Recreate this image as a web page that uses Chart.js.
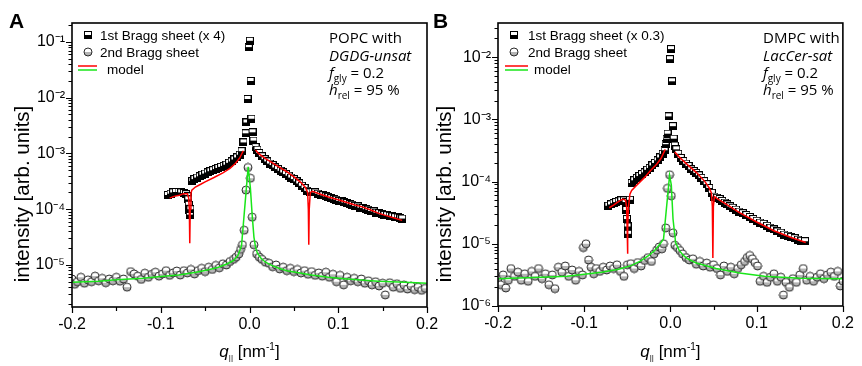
<!DOCTYPE html>
<html><head><meta charset="utf-8">
<script src="https://cdn.jsdelivr.net/npm/chart.js@4.4.1/dist/chart.umd.min.js"></script>
<style>
html,body{margin:0;padding:0;background:#fff;}
#wrap{position:relative;width:862px;height:366px;overflow:hidden;background:#fff;}
#pa{position:absolute;left:0;top:0;}
#pb{position:absolute;left:431px;top:0;}
</style></head><body>
<div id="wrap">
<canvas id="pa" width="460" height="366"></canvas>
<canvas id="pb" width="431" height="366"></canvas>
</div>
<script>
// ---------- shared axis ticks ----------
const xTickValues = [-0.2,-0.15,-0.1,-0.05,0,0.05,0.1,0.15,0.2];
const xTickLabels = ['-0.2','','-0.1','','0.0','','0.1','','0.2'];
const yMajorA = [1e-5,1e-4,1e-3,1e-2,1e-1];
const yLabelsA = ['10\u207B\u2075','10\u207B\u2074','10\u207B\u00B3','10\u207B\u00B2','10\u207B\u00B9'];
const yMajorB = [1e-6,1e-5,1e-4,1e-3,1e-2];
const yLabelsB = ['10\u207B\u2076','10\u207B\u2075','10\u207B\u2074','10\u207B\u00B3','10\u207B\u00B2'];

// ---------- Panel A : POPC with DGDG-unsat ----------
const qA_sheet1 = [-0.092,-0.089,-0.086,-0.083,-0.080,-0.077,-0.074,-0.0715,-0.0698,-0.0690,-0.0684,-0.0678,-0.0672,-0.0666,-0.0645,-0.062,-0.059,-0.056,-0.053,-0.050,-0.047,-0.044,-0.041,-0.038,-0.035,-0.032,-0.029,-0.026,-0.023,-0.020,-0.017,-0.014,-0.011,-0.009,-0.0068,-0.0045,-0.0034,-0.0022,-0.0008,0.0004,0.0012,0.0022,0.0034,0.0045,0.0068,0.009,0.011,0.014,0.017,0.020,0.023,0.026,0.029,0.032,0.035,0.038,0.041,0.044,0.047,0.050,0.053,0.056,0.059,0.062,0.065,0.068,0.071,0.074,0.077,0.080,0.083,0.086,0.089,0.092,0.095,0.098,0.101,0.104,0.107,0.110,0.113,0.116,0.119,0.122,0.125,0.128,0.131,0.134,0.137,0.140,0.143,0.146,0.149,0.152,0.155,0.158,0.161,0.164,0.167,0.170,0.172];
const iA_sheet1 = [1.8e-4,1.9e-4,2.0e-4,2.04e-4,2.04e-4,2.0e-4,1.95e-4,1.86e-4,1.7e-4,1.5e-4,1.2e-4,9.5e-5,8.0e-5,1.0e-4,3.2e-4,3.47e-4,3.7e-4,3.9e-4,4.17e-4,4.37e-4,4.57e-4,4.8e-4,5.0e-4,5.25e-4,5.5e-4,5.75e-4,6.0e-4,6.3e-4,6.8e-4,7.2e-4,7.8e-4,8.5e-4,9.5e-4,1.1e-3,1.58e-3,2.3e-3,3.6e-3,9.5e-3,8.1e-2,0.105,2.0e-2,4.2e-3,2.4e-3,1.7e-3,1.3e-3,1.17e-3,1.02e-3,8.9e-4,7.9e-4,7.2e-4,6.6e-4,6.2e-4,5.6e-4,5.25e-4,4.9e-4,4.57e-4,4.27e-4,4.0e-4,3.7e-4,3.47e-4,3.16e-4,2.9e-4,2.63e-4,2.4e-4,2.14e-4,2.0e-4,2.04e-4,2.0e-4,1.9e-4,1.82e-4,1.78e-4,1.7e-4,1.66e-4,1.58e-4,1.51e-4,1.48e-4,1.41e-4,1.38e-4,1.32e-4,1.29e-4,1.23e-4,1.2e-4,1.15e-4,1.12e-4,1.07e-4,1.05e-4,1.0e-4,9.8e-5,9.3e-5,9.1e-5,8.7e-5,8.5e-5,8.1e-5,7.9e-5,7.8e-5,7.6e-5,7.4e-5,7.2e-5,7.1e-5,6.9e-5,6.8e-5];
const qA_sheet2 = [-0.200,-0.197,-0.194,-0.190,-0.186,-0.182,-0.178,-0.174,-0.170,-0.166,-0.162,-0.158,-0.154,-0.150,-0.146,-0.142,-0.138,-0.134,-0.130,-0.126,-0.122,-0.118,-0.114,-0.110,-0.106,-0.102,-0.098,-0.094,-0.090,-0.086,-0.082,-0.078,-0.074,-0.070,-0.066,-0.062,-0.058,-0.054,-0.050,-0.046,-0.042,-0.038,-0.034,-0.030,-0.026,-0.022,-0.018,-0.015,-0.012,-0.010,-0.008,-0.006,-0.004,-0.0017,0.001,0.003,0.005,0.008,0.011,0.014,0.018,0.022,0.026,0.030,0.034,0.038,0.042,0.046,0.050,0.054,0.058,0.062,0.066,0.070,0.074,0.078,0.082,0.086,0.090,0.094,0.098,0.102,0.106,0.110,0.114,0.118,0.122,0.126,0.130,0.134,0.138,0.142,0.146,0.150,0.153,0.158,0.162,0.166,0.170,0.174,0.178,0.182,0.186,0.190,0.194,0.198];
const iA_sheet2 = [5.6e-6,4.5e-6,5.0e-6,6.0e-6,4.7e-6,5.4e-6,5.0e-6,6.3e-6,5.2e-6,5.75e-6,4.8e-6,5.6e-6,5.2e-6,6.0e-6,5.1e-6,5.6e-6,4.0e-6,7.6e-6,6.9e-6,6.3e-6,5.5e-6,7.1e-6,6.0e-6,6.8e-6,7.4e-6,6.3e-6,6.9e-6,7.9e-6,6.5e-6,7.2e-6,7.8e-6,6.6e-6,7.9e-6,7.2e-6,8.3e-6,6.9e-6,7.9e-6,8.7e-6,7.6e-6,9.1e-6,8.3e-6,9.8e-6,8.9e-6,1.05e-5,1.0e-5,1.15e-5,1.26e-5,1.38e-5,1.58e-5,1.9e-5,2.3e-5,4.2e-5,2.2e-4,5.6e-4,3.6e-4,7.2e-5,2.3e-5,1.58e-5,1.38e-5,1.26e-5,1.12e-5,1.07e-5,9.3e-6,1.0e-5,8.5e-6,9.1e-6,7.9e-6,8.7e-6,7.6e-6,8.3e-6,7.2e-6,7.9e-6,6.8e-6,7.6e-6,6.5e-6,7.2e-6,6.3e-6,7.4e-6,6.0e-6,6.8e-6,5.0e-6,6.5e-6,4.4e-6,6.0e-6,5.2e-6,5.75e-6,5.0e-6,5.6e-6,4.7e-6,5.2e-6,4.4e-6,5.0e-6,4.2e-6,4.7e-6,2.9e-6,4.8e-6,4.0e-6,4.6e-6,3.8e-6,4.4e-6,3.7e-6,4.2e-6,3.6e-6,4.0e-6,3.5e-6,3.8e-6];
const qA_model1 = [-0.090,-0.085,-0.079,-0.074,-0.070,-0.0685,-0.0678,-0.0673,-0.0668,-0.066,-0.065,-0.061,-0.055,-0.050,-0.040,-0.030,-0.022,-0.016,-0.011,-0.007,0,0.0068,0.010,0.018,0.025,0.033,0.042,0.052,0.058,0.063,0.0655,0.0663,0.0668,0.0673,0.0685,0.071,0.080,0.089,0.100,0.108,0.118,0.127,0.136,0.145,0.155,0.164,0.172];
const iA_model1 = [1.58e-4,1.7e-4,1.78e-4,1.9e-4,1.9e-4,1.58e-4,1.0e-4,2.45e-5,1.0e-4,1.9e-4,2.2e-4,2.5e-4,2.8e-4,3.1e-4,3.7e-4,4.5e-4,5.4e-4,6.6e-4,8.3e-4,1.12e-3,null,1.15e-3,1.0e-3,8.1e-4,6.9e-4,5.75e-4,4.7e-4,3.6e-4,3.0e-4,2.45e-4,2.0e-4,1.0e-4,2.3e-5,1.0e-4,2.0e-4,2.1e-4,1.86e-4,1.66e-4,1.48e-4,1.35e-4,1.2e-4,1.1e-4,9.8e-5,8.5e-5,7.6e-5,6.9e-5,6.3e-5];
const qA_model2 = [-0.200,-0.170,-0.150,-0.120,-0.100,-0.080,-0.060,-0.045,-0.035,-0.025,-0.018,-0.013,-0.009,-0.0015,0.001,0.003,0.005,0.007,0.009,0.013,0.018,0.025,0.033,0.042,0.052,0.070,0.089,0.110,0.145,0.175,0.200];
const iA_model2 = [4.9e-6,5.1e-6,5.4e-6,5.75e-6,6.2e-6,6.6e-6,7.4e-6,8.3e-6,9.1e-6,1.05e-5,1.2e-5,1.48e-5,2.2e-5,5.75e-4,2.4e-4,7.9e-5,3.16e-5,2.0e-5,1.62e-5,1.32e-5,1.12e-5,9.8e-6,8.7e-6,7.9e-6,7.4e-6,6.6e-6,6.0e-6,5.6e-6,5.1e-6,4.9e-6,4.7e-6];

// ---------- Panel B : DMPC with LacCer-sat ----------
const qB_sheet1 = [-0.072,-0.069,-0.066,-0.063,-0.060,-0.057,-0.054,-0.052,-0.0512,-0.0505,-0.0498,-0.0491,-0.0470,-0.045,-0.042,-0.039,-0.036,-0.033,-0.030,-0.027,-0.024,-0.021,-0.018,-0.015,-0.012,-0.009,-0.0068,-0.0056,-0.0045,-0.0034,-0.0022,-0.0006,0.0006,0.0018,0.0028,0.0038,0.005,0.0068,0.009,0.012,0.015,0.018,0.021,0.024,0.027,0.030,0.033,0.036,0.039,0.042,0.045,0.048,0.051,0.054,0.057,0.060,0.063,0.066,0.069,0.072,0.076,0.080,0.084,0.088,0.092,0.096,0.100,0.104,0.108,0.112,0.116,0.120,0.124,0.128,0.132,0.136,0.140,0.144,0.148,0.152,0.156];
const iB_sheet1 = [4.1e-5,4.3e-5,4.5e-5,4.7e-5,4.8e-5,5.0e-5,5.0e-5,4.7e-5,3.5e-5,2.5e-5,1.9e-5,1.45e-5,5.1e-5,9.5e-5,1.05e-4,1.15e-4,1.23e-4,1.32e-4,1.41e-4,1.55e-4,1.66e-4,1.82e-4,2.0e-4,2.2e-4,2.45e-4,2.8e-4,3.2e-4,4.0e-4,4.9e-4,5.9e-4,1.12e-3,9.3e-3,1.35e-2,4.1e-3,7.8e-4,4.9e-4,3.8e-4,3.3e-4,2.8e-4,2.4e-4,2.14e-4,1.95e-4,1.78e-4,1.58e-4,1.48e-4,1.38e-4,1.26e-4,1.15e-4,1.02e-4,9.1e-5,7.9e-5,6.6e-5,5.75e-5,5.5e-5,5.25e-5,4.9e-5,4.6e-5,4.3e-5,4.0e-5,3.8e-5,3.55e-5,3.3e-5,3.1e-5,2.9e-5,2.7e-5,2.5e-5,2.35e-5,2.2e-5,2.1e-5,1.95e-5,1.82e-5,1.7e-5,1.58e-5,1.51e-5,1.41e-5,1.35e-5,1.29e-5,1.23e-5,1.17e-5,1.12e-5,1.1e-5];
const qB_sheet2 = [-0.200,-0.197,-0.194,-0.191,-0.188,-0.185,-0.181,-0.177,-0.173,-0.169,-0.165,-0.161,-0.157,-0.153,-0.149,-0.145,-0.141,-0.137,-0.134,-0.130,-0.126,-0.122,-0.118,-0.114,-0.110,-0.106,-0.102,-0.101,-0.098,-0.095,-0.092,-0.089,-0.086,-0.082,-0.078,-0.074,-0.070,-0.066,-0.062,-0.058,-0.054,-0.050,-0.046,-0.042,-0.038,-0.034,-0.030,-0.026,-0.022,-0.019,-0.016,-0.013,-0.010,-0.008,-0.0055,-0.0035,-0.001,0.001,0.003,0.005,0.008,0.011,0.014,0.018,0.022,0.026,0.030,0.034,0.038,0.042,0.046,0.050,0.054,0.058,0.062,0.066,0.070,0.074,0.078,0.082,0.086,0.089,0.092,0.095,0.098,0.101,0.104,0.108,0.112,0.116,0.120,0.124,0.128,0.131,0.134,0.138,0.142,0.146,0.150,0.154,0.158,0.162,0.166,0.170,0.174,0.178,0.182,0.186,0.190,0.194,0.197,0.200];
const iB_sheet2 = [2.75e-6,2.2e-6,3.16e-6,1.95e-6,2.6e-6,4.0e-6,3.0e-6,3.5e-6,2.6e-6,3.3e-6,2.5e-6,3.6e-6,3.0e-6,4.0e-6,2.75e-6,3.3e-6,2.2e-6,3.16e-6,1.9e-6,4.2e-6,3.5e-6,4.4e-6,3.0e-6,3.8e-6,2.6e-6,3.6e-6,3.16e-6,8.7e-6,1.0e-5,5.5e-6,4.2e-6,3.3e-6,4.0e-6,3.6e-6,4.2e-6,3.8e-6,4.4e-6,4.0e-6,4.6e-6,3.6e-6,3.0e-6,4.6e-6,4.8e-6,4.0e-6,5.0e-6,4.4e-6,5.4e-6,6.0e-6,5.2e-6,6.9e-6,7.9e-6,8.9e-6,8.3e-6,1.0e-5,1.8e-5,7.8e-5,1.29e-4,5.9e-5,1.5e-5,9.5e-6,8.7e-6,7.8e-6,6.9e-6,6.0e-6,5.5e-6,5.75e-6,4.7e-6,5.2e-6,4.4e-6,4.9e-6,4.2e-6,4.6e-6,4.0e-6,3.16e-6,4.4e-6,3.6e-6,4.2e-6,3.3e-6,4.0e-6,4.6e-6,5.2e-6,6.0e-6,6.5e-6,5.75e-6,5.0e-6,4.4e-6,2.5e-6,3.0e-6,2.4e-6,2.9e-6,3.3e-6,2.5e-6,2.9e-6,1.5e-6,2.4e-6,2.0e-6,2.75e-6,2.4e-6,3.16e-6,4.0e-6,2.6e-6,3.0e-6,2.5e-6,2.9e-6,3.3e-6,2.75e-6,3.16e-6,3.5e-6,3.0e-6,3.6e-6,2.1e-6,2.5e-6];
const qB_model1 = [-0.071,-0.066,-0.062,-0.058,-0.055,-0.052,-0.0508,-0.0502,-0.0498,-0.0494,-0.0488,-0.047,-0.045,-0.040,-0.030,-0.023,-0.016,-0.011,-0.006,0,0.005,0.010,0.020,0.030,0.040,0.045,0.0475,0.0486,0.0492,0.0498,0.051,0.055,0.065,0.080,0.100,0.120,0.140,0.157];
const iB_model1 = [3.8e-5,4.2e-5,4.6e-5,5.0e-5,5.25e-5,5.0e-5,3.8e-5,1.78e-5,6.9e-6,1.78e-5,3.8e-5,6.3e-5,7.2e-5,8.5e-5,1.17e-4,1.51e-4,1.9e-4,2.35e-4,3.3e-4,null,3.0e-4,2.5e-4,1.86e-4,1.41e-4,1.0e-4,7.9e-5,6.6e-5,4.0e-5,5.9e-6,4.0e-5,5.75e-5,5.25e-5,4.3e-5,3.16e-5,2.24e-5,1.62e-5,1.26e-5,1.05e-5];
const qB_model2 = [-0.200,-0.150,-0.120,-0.100,-0.080,-0.060,-0.045,-0.035,-0.025,-0.018,-0.012,-0.008,-0.001,0.001,0.003,0.006,0.010,0.015,0.020,0.030,0.053,0.080,0.109,0.150,0.200];
const iB_model2 = [2.75e-6,2.9e-6,3.0e-6,3.24e-6,3.5e-6,3.9e-6,4.5e-6,5.25e-6,6.5e-6,7.9e-6,1.0e-5,1.2e-5,1.26e-4,8.9e-5,2.5e-5,1.05e-5,7.9e-6,6.5e-6,5.75e-6,4.9e-6,4.0e-6,3.4e-6,3.0e-6,2.8e-6,2.75e-6];

// ---------- drawing helpers ----------
const F = "'Liberation Sans', Arial, sans-serif";
const FO = "'Open Sans', 'Noto Sans', sans-serif";

function squareMarker(){
  const c = document.createElement('canvas'); c.width = 8; c.height = 8;
  const g = c.getContext('2d');
  g.fillStyle = '#000'; g.fillRect(0,0,8,8);
  g.fillStyle = '#fff'; g.fillRect(1,1,6,3);
  return c;
}
function circleMarker(){
  const c = document.createElement('canvas'); c.width = 10; c.height = 10;
  const g = c.getContext('2d');
  g.beginPath(); g.arc(5,5,4,0,2*Math.PI); g.fillStyle = '#fff'; g.fill();
  g.beginPath(); g.moveTo(1,5); g.arc(5,5,4,0,Math.PI); g.closePath(); g.fillStyle = '#b4b4b4'; g.fill();
  g.beginPath(); g.arc(5,5,4,0,2*Math.PI); g.strokeStyle = '#2a2a2a'; g.lineWidth = 1; g.stroke();
  return c;
}
function runs(ctx, x, y, list, center){
  let w = 0;
  list.forEach(r => { ctx.font = r.f; w += ctx.measureText(r.t).width; });
  if (center) x -= w/2;
  list.forEach(r => { ctx.font = r.f; ctx.fillText(r.t, x, y + (r.dy||0)); x += ctx.measureText(r.t).width; });
}
function isDecade(v){ const l = Math.log10(v); return Math.abs(l - Math.round(l)) < 1e-6; }

function makePanel(c){
  const sq = squareMarker(), ci = circleMarker();
  const pts = (xs, ys) => xs.map((x,i) => ({x:x, y:ys[i]}));
  const decor = {
    id: 'decor' + c.id,
    afterDraw(chart){
      const ctx = chart.ctx, a = chart.chartArea;
      const xs = chart.scales.x, ys = chart.scales.y;
      ctx.save();
      ctx.strokeStyle = '#000'; ctx.fillStyle = '#000';
      ctx.lineWidth = 1.6;
      ctx.strokeRect(a.left, a.top, a.right - a.left, a.bottom - a.top);
      ctx.lineWidth = 1.2;
      ctx.beginPath();
      ys.ticks.forEach(t => {
        const y = Math.round(ys.getPixelForValue(t.value)) + 0.5;
        const len = isDecade(t.value) ? 6 : 3.5;
        ctx.moveTo(a.left, y); ctx.lineTo(a.left - len, y);
      });
      xs.ticks.forEach(t => {
        const x = Math.round(xs.getPixelForValue(t.value)) + 0.5;
        const major = Math.abs(t.value*10 - Math.round(t.value*10)) < 1e-6;
        ctx.moveTo(x, a.bottom); ctx.lineTo(x, a.bottom + (major ? 6 : 4));
      });
      ctx.stroke();
      ctx.textAlign = 'left'; ctx.textBaseline = 'alphabetic';
      ctx.font = 'bold 21px ' + F;
      ctx.fillText(c.letter, c.letterX, 28);
      ctx.save();
      ctx.translate(c.yTitleX, 194); ctx.rotate(-Math.PI/2);
      ctx.textAlign = 'center'; ctx.textBaseline = 'middle';
      ctx.font = '20.5px ' + F;
      ctx.fillText('intensity [arb. units]', 0, 0);
      ctx.restore();
      runs(ctx, (a.left + a.right)/2, 357, [
        {t:'q', f:'italic 17px ' + F},
        {t:'||', f:'8px ' + F, dy:3},
        {t:' [nm', f:'17px ' + F},
        {t:'-1', f:'10px ' + F, dy:-7},
        {t:']', f:'17px ' + F}
      ], true);
      const L = c.legend;
      ctx.drawImage(sq, L.mx - 4, 35 - 4);
      ctx.drawImage(ci, L.mx - 5, 52 - 5);
      ctx.font = '13.5px ' + F;
      ctx.fillText(c.sheet1Label, L.tx, 40);
      ctx.fillText('2nd Bragg sheet', L.tx, 57);
      ctx.fillText('model', L.modelX, 74);
      ctx.lineWidth = 1.5;
      ctx.strokeStyle = '#ff0000';
      ctx.beginPath(); ctx.moveTo(L.l0, 66); ctx.lineTo(L.l1, 66); ctx.stroke();
      ctx.strokeStyle = '#19e619';
      ctx.beginPath(); ctx.moveTo(L.l0, 70); ctx.lineTo(L.l1, 70); ctx.stroke();
      const X = c.noteX;
      ctx.fillStyle = '#000';
      runs(ctx, X, 43, [{t:c.note1, f:'15px ' + FO}]);
      runs(ctx, X, 61, [{t:c.note2, f:'italic 15px ' + FO}]);
      runs(ctx, X, 78, [{t:'f', f:'italic 15px ' + FO},{t:'gly', f:'10px ' + FO, dy:4},{t:' = 0.2', f:'15px ' + FO}]);
      runs(ctx, X, 95, [{t:'h', f:'italic 15px ' + FO},{t:'rel', f:'10px ' + FO, dy:4},{t:' = 95 %', f:'15px ' + FO}]);
      ctx.restore();
    }
  };
  return new Chart(document.getElementById(c.id), {
    type: 'scatter',
    data: { datasets: [
      {label:'model (1st)', data:pts(c.m1q, c.m1i), showLine:true, spanGaps:false, borderColor:'#ff0000', borderWidth:1.5, pointRadius:0, order:0},
      {label:'model (2nd)', data:pts(c.m2q, c.m2i), showLine:true, borderColor:'#19e619', borderWidth:1.5, pointRadius:0, order:0},
      {label:c.sheet1Label, data:pts(c.s1q, c.s1i), pointStyle:sq, order:2},
      {label:'2nd Bragg sheet', data:pts(c.s2q, c.s2i), pointStyle:ci, order:1}
    ]},
    options: {
      responsive:false, animation:false, devicePixelRatio:1,
      layout:{padding:c.padding, autoPadding:false},
      plugins:{legend:{display:false}, tooltip:{enabled:false}, title:{display:false}},
      scales:{
        x:{type:'linear', min:-0.2, max:0.2,
           grid:{display:false, drawTicks:false}, border:{display:false},
           afterBuildTicks: s => { s.ticks = xTickValues.map(v => ({value:v})); },
           afterFit: s => { s.height = c.xh; },
           ticks:{autoSkip:false, maxRotation:0, minRotation:0, padding:8, color:'#000', font:{family:F, size:16},
             callback: v => { const i = xTickValues.findIndex(t => Math.abs(t - v) < 1e-9); return i >= 0 ? xTickLabels[i] : ''; }}},
        y:{type:'logarithmic', min:c.ymin, max:c.ymax,
           grid:{display:false, drawTicks:false}, border:{display:false},
           afterBuildTicks: s => {
             const list = [];
             for (let e = -7; e <= 0; e++) for (let m = 1; m <= 9; m++) {
               const v = m * Math.pow(10, e);
               if (v >= c.ymin && v <= c.ymax) list.push({value:v, major: m === 1});
             }
             s.ticks = list;
           },
           afterFit: s => { s.width = c.yw; },
           ticks:{autoSkip:false, padding:7, color:'#000', font:{family:F, size:16},
             callback: v => { const i = c.yMajor.findIndex(t => Math.abs(v/t - 1) < 1e-6); return i >= 0 ? c.yLabels[i] : ''; }}}
      }
    },
    plugins:[decor]
  });
}

makePanel({
  id:'pa', letter:'A', letterX:9, yTitleX:23,
  padding:{left:0, top:23, right:33, bottom:0}, yw:72, xh:59,
  ymin:1.76e-6, ymax:0.219, yMajor:yMajorA, yLabels:yLabelsA,
  s1q:qA_sheet1, s1i:iA_sheet1, s2q:qA_sheet2, s2i:iA_sheet2,
  m1q:qA_model1, m1i:iA_model1, m2q:qA_model2, m2i:iA_model2,
  sheet1Label:'1st Bragg sheet (x 4)',
  legend:{mx:88, tx:100, l0:78, l1:97, modelX:107},
  noteX:329, note1:'POPC with', note2:'DGDG-unsat'
});
makePanel({
  id:'pb', letter:'B', letterX:2, yTitleX:14,
  padding:{left:0, top:23, right:9, bottom:0}, yw:67, xh:60,
  ymin:1e-6, ymax:0.0355, yMajor:yMajorB, yLabels:yLabelsB,
  s1q:qB_sheet1, s1i:iB_sheet1, s2q:qB_sheet2, s2i:iB_sheet2,
  m1q:qB_model1, m1i:iB_model1, m2q:qB_model2, m2i:iB_model2,
  sheet1Label:'1st Bragg sheet (x 0.3)',
  legend:{mx:83, tx:97, l0:74, l1:97, modelX:103},
  noteX:332, note1:'DMPC with', note2:'LacCer-sat'
});
</script>
</body></html>
